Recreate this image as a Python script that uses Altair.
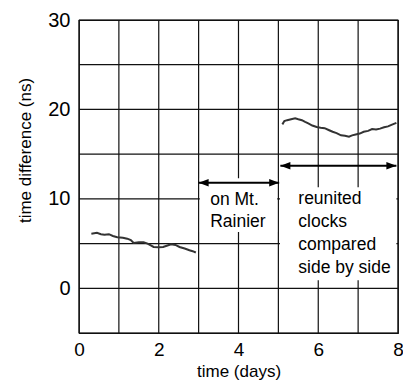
import altair as alt
import pandas as pd

# Series
seg1_x = [0.31, 0.45, 0.55, 0.64, 0.75, 0.85, 0.96, 1.10, 1.21, 1.30, 1.37, 1.50, 1.62, 1.72, 1.80,
          1.87, 2.00, 2.11, 2.20, 2.31, 2.42, 2.52, 2.65, 2.77, 2.85, 2.93]
seg1_y = [6.10, 6.20, 6.05, 6.00, 6.05, 5.85, 5.70, 5.65, 5.55, 5.40, 5.07, 5.15, 5.14, 5.00, 4.80,
          4.62, 4.60, 4.62, 4.75, 4.92, 4.85, 4.62, 4.45, 4.26, 4.15, 4.00]
seg2_x = [5.10, 5.15, 5.22, 5.32, 5.42, 5.50, 5.59, 5.67, 5.75, 5.85, 5.96, 6.06, 6.16, 6.26, 6.36,
          6.46, 6.57, 6.67, 6.77, 6.85, 6.94, 7.04, 7.14, 7.25, 7.35, 7.45, 7.55, 7.65, 7.75, 7.85, 7.96]
seg2_y = [18.33, 18.70, 18.80, 18.90, 19.00, 18.90, 18.80, 18.60, 18.44, 18.20, 18.03, 17.95, 17.90,
          17.70, 17.50, 17.35, 17.10, 17.05, 16.96, 17.10, 17.20, 17.30, 17.50, 17.60, 17.80, 17.75,
          17.85, 18.00, 18.10, 18.30, 18.50]

x_grid = [0, 1, 2, 3, 4, 5, 6, 7, 8]
y_grid = [-5, 0, 5, 10, 15, 20, 25, 30]
x_labels = [0, 2, 4, 6, 8]
y_labels = [0, 10, 20, 30]

# annotations (data coordinates)
ann_lines = ["on Mt.", "Rainier", "reunited", "clocks", "compared", "side by side"]
ann_x = [3.29, 3.29, 5.50, 5.50, 5.50, 5.50]
ann_y = [9.92, 7.40, 10.03, 7.44, 4.86, 2.26]

box_x = [3.03, 5.04]
box_x2 = [4.97, 7.96]
box_y = [6.3, 0.9]
box_y2 = [12.3, 11.3]

arrow_x = [3.0, 5.05]
arrow_x2 = [5.02, 7.96]
arrow_y = [11.8, 13.7]

FONT = "Liberation Sans"
GRID = "#111"

line_df = pd.DataFrame({
    "x": seg1_x + seg2_x,
    "y": seg1_y + seg2_y,
    "seg": ["a"] * len(seg1_x) + ["b"] * len(seg2_x),
})

xs = alt.Scale(domain=[0, 8], nice=False, zero=False)
ys = alt.Scale(domain=[-5, 30], nice=False, zero=False)

base_x = alt.X("x:Q", scale=xs, title="time (days)",
               axis=alt.Axis(values=x_labels, grid=False, ticks=False, domain=False,
                             labelFont=FONT, labelFontSize=19, labelColor="#000", labelPadding=7,
                             labelFlush=False,
                             titleFont=FONT, titleFontSize=17, titleFontWeight="normal",
                             titleColor="#000", titleBaseline="alphabetic", titleY=43))
base_y = alt.Y("y:Q", scale=ys, title="time difference (ns)",
               axis=alt.Axis(values=y_labels, grid=False, ticks=False, domain=False,
                             labelFont=FONT, labelFontSize=20, labelColor="#000", labelPadding=9,
                             labelFlush=False,
                             titleFont=FONT, titleFontSize=17, titleFontWeight="normal",
                             titleColor="#000", titleBaseline="middle", titleX=-54, titleY=130))

vgrid = alt.Chart(pd.DataFrame({"g": x_grid})).mark_rule(color=GRID, strokeWidth=1.2).encode(
    x=alt.X("g:Q", scale=xs))
hgrid = alt.Chart(pd.DataFrame({"g": y_grid})).mark_rule(color=GRID, strokeWidth=1.2).encode(
    y=alt.Y("g:Q", scale=ys))

lines = alt.Chart(line_df).mark_line(color="#333", strokeWidth=2).encode(
    x=base_x, y=base_y, detail="seg:N")

box_df = pd.DataFrame({"x": box_x, "x2": box_x2, "y": box_y, "y2": box_y2})
boxes = alt.Chart(box_df).mark_rect(color="white").encode(
    x=alt.X("x:Q", scale=xs), x2="x2:Q", y=alt.Y("y:Q", scale=ys), y2="y2:Q")

arr_df = pd.DataFrame({"x": arrow_x, "x2": arrow_x2, "y": arrow_y})
rules = alt.Chart(arr_df).mark_rule(color="#000", strokeWidth=2).encode(
    x=alt.X("x:Q", scale=xs), x2="x2:Q", y=alt.Y("y:Q", scale=ys))

right_head = "M0,0 L-2,-0.75 L-2,0.75 Z"
left_head = "M0,0 L2,-0.75 L2,0.75 Z"
heads_r = alt.Chart(arr_df).mark_point(shape=right_head, filled=True, color="#000", size=100, opacity=1).encode(
    x=alt.X("x2:Q", scale=xs), y=alt.Y("y:Q", scale=ys))
heads_l = alt.Chart(arr_df).mark_point(shape=left_head, filled=True, color="#000", size=100, opacity=1).encode(
    x=alt.X("x:Q", scale=xs), y=alt.Y("y:Q", scale=ys))

ann_df = pd.DataFrame({"t": ann_lines, "x": ann_x, "y": ann_y})
texts = alt.Chart(ann_df).mark_text(align="left", baseline="middle", font=FONT, fontSize=17.5,
                                    color="#000").encode(
    x=alt.X("x:Q", scale=xs), y=alt.Y("y:Q", scale=ys), text="t:N")

chart = alt.layer(vgrid, hgrid, lines, boxes, rules, heads_l, heads_r, texts).properties(
    width=319, height=313,
    autosize=alt.AutoSizeParams(type="none"),
    padding={"left": 71, "top": 12, "right": 5, "bottom": 47},
).configure_view(stroke=GRID, strokeWidth=1.2)

chart.save("out.html", embed_options={"renderer": "svg", "actions": False})
